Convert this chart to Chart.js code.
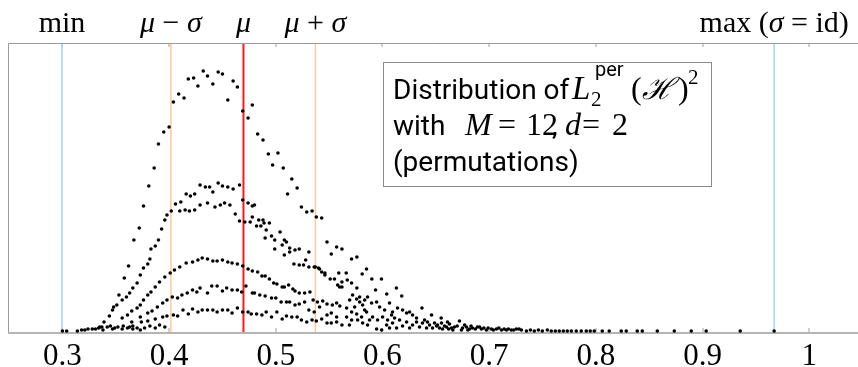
<!DOCTYPE html>
<html><head><meta charset="utf-8">
<script src="https://cdn.jsdelivr.net/npm/chart.js@4"></script>
<style>html,body{margin:0;padding:0;background:#fff;overflow:hidden}#wrap{width:858px;height:367px}</style>
</head><body><div id="wrap"><canvas id="c" width="858" height="367"></canvas></div>
<script>
// ---- data ----
const xTicks = [0.3, 0.4, 0.5, 0.6, 0.7, 0.8, 0.9, 1.0];
const markerNames = ['min', 'mu-sigma', 'mu', 'mu+sigma', 'max'];
const markerValues = [0.2996, 0.4017, 0.4697, 0.5371, 0.9671];

const bandA = [[0.335,5],[0.339,10],[0.344,16],[0.348,25],[0.353,37],[0.358,54],[0.362,66],[0.367,92],[0.372,104],[0.376,126],[0.381,146],[0.386,164],[0.390,188],[0.395,200],[0.400,205],[0.404,230],[0.409,238],[0.414,234],[0.418,253],[0.423,254],[0.427,246],[0.432,261],[0.436,256],[0.441,248],[0.446,260],[0.450,258],[0.455,232],[0.460,251],[0.464,245],[0.469,221],[0.474,214],[0.478,227],[0.483,198],[0.488,192],[0.493,178],[0.497,167],[0.502,179],[0.507,164],[0.511,138],[0.515,153],[0.520,144],[0.524,125],[0.529,120],[0.534,121],[0.538,115],[0.543,114],[0.548,90],[0.552,78],[0.557,85],[0.562,83],[0.571,73],[0.576,75],[0.581,58],[0.585,63],[0.590,53],[0.599,53],[0.604,38],[0.613,44],[0.618,36],[0.637,24],[0.646,17],[0.655,14]];

const bandB = [[0.347,22],[0.351,27],[0.356,32],[0.360,35],[0.363,39],[0.366,44],[0.370,49],[0.373,57],[0.376,64],[0.380,68],[0.382,73],[0.383,83],[0.387,86],[0.390,92],[0.393,103],[0.396,112],[0.398,117],[0.402,121],[0.406,128],[0.411,130],[0.416,138],[0.420,136],[0.424,138],[0.429,147],[0.434,145],[0.438,145],[0.441,140],[0.446,149],[0.450,146],[0.455,145],[0.460,143],[0.466,147],[0.469,132],[0.474,129],[0.478,126],[0.480,127],[0.484,112],[0.488,112],[0.494,109],[0.496,96],[0.504,100],[0.508,92],[0.510,90],[0.513,84],[0.518,82],[0.522,83],[0.531,80],[0.528,72],[0.537,65],[0.541,63],[0.546,59],[0.551,53],[0.555,53],[0.559,59],[0.566,59],[0.562,50],[0.567,52],[0.571,49],[0.576,44],
[0.410,121],[0.415,122],[0.419,121],[0.424,122],[0.429,127],[0.436,129],[0.443,125],[0.448,127],[0.452,129],[0.457,127],[0.462,118],[0.466,111],[0.471,110],[0.476,110],[0.478,115],[0.482,106],[0.486,106],[0.489,109],[0.491,102],[0.490,94],[0.499,92],[0.499,83],[0.506,87],[0.508,77],[0.513,80],[0.517,68],[0.522,67],[0.526,67],[0.531,65],[0.536,65],[0.540,64],[0.543,60],[0.546,57],[0.558,47],[0.562,45]];

const bandC = [[0.356,14],[0.361,17],[0.365,21],[0.370,24],[0.373,27],[0.376,32],[0.380,37],[0.383,40],[0.387,45],[0.391,50],[0.396,55],[0.401,59],[0.405,62],[0.410,65],[0.416,69],[0.422,70],[0.427,72],[0.431,74],[0.436,73],[0.441,71],[0.445,71],[0.450,72],[0.455,70],[0.459,69],[0.464,68],[0.469,66],[0.474,63],[0.478,61],[0.483,60],[0.487,56],[0.490,56],[0.494,53],[0.498,49],[0.501,48],[0.506,45],[0.508,45],[0.512,47],[0.516,43],[0.518,41],[0.522,39],[0.527,39],[0.532,40],[0.535,32],[0.539,30],[0.544,31],[0.548,28],[0.553,27],[0.557,29],[0.560,26]];

const bandD = [[0.365,10],[0.373,15],[0.380,19],[0.384,21],[0.389,25],[0.394,29],[0.398,32],[0.403,35],[0.408,34],[0.412,37],[0.417,39],[0.422,42],[0.426,40],[0.429,44],[0.436,39],[0.440,46],[0.445,46],[0.450,41],[0.454,44],[0.459,42],[0.464,42],[0.468,40],[0.472,46],[0.478,39],[0.480,39],[0.485,37],[0.490,36],[0.496,34],[0.500,34],[0.505,30],[0.510,30],[0.513,30],[0.518,27],[0.522,28],[0.527,30],[0.531,22],[0.536,20],[0.541,25],[0.548,17],[0.552,19],[0.557,15]];

const bandE = [[0.361,4],[0.366,6],[0.374,10],[0.380,11],[0.387,13],[0.394,15],[0.398,16],[0.404,17],[0.408,16],[0.413,22],[0.418,18],[0.422,23],[0.427,20],[0.431,22],[0.436,22],[0.441,22],[0.445,20],[0.450,22],[0.455,22],[0.459,19],[0.464,24],[0.469,20],[0.474,20],[0.477,18],[0.482,18],[0.487,17],[0.491,20],[0.496,15],[0.501,20],[0.506,13],[0.510,16],[0.515,15],[0.520,15],[0.524,12],[0.529,10],[0.534,12],[0.538,11],[0.543,13],[0.548,9],[0.552,9],[0.557,10],[0.562,7],[0.569,7]];

const baseLeft = [[0.300,1],[0.304,1],[0.314,1],[0.318,2],[0.321,2],[0.324,3],[0.328,3],[0.331,3],[0.334,4],[0.337,5],[0.338,2],[0.342,5],[0.345,6],[0.347,3],[0.349,4],[0.352,5],[0.356,3],[0.357,6],[0.363,5],[0.366,3],[0.370,4],[0.373,2],[0.377,4],[0.382,6],[0.387,4],[0.391,7],[0.396,5]];

const tail = [[0.5786,35],[0.5833,32],[0.5860,35],[0.5898,29],[0.5935,42],[0.5945,30],[0.5973,25],[0.6020,22],[0.6066,29],[0.6094,20],[0.6141,24],[0.6188,22],[0.6226,19],[0.6254,20],[0.6282,17],[0.6319,14],[0.6394,12],[0.6422,10],[0.6488,9],[0.6516,7],[0.6553,9],[0.6581,6],[0.6609,10],
[0.5945,3],[0.5992,2],[0.6039,7],[0.6066,4],[0.6094,9],[0.6132,4],[0.6160,12],[0.6188,6],[0.6226,10],[0.6254,4],[0.6282,7],[0.6319,10],[0.6347,5],[0.6375,9],[0.6413,4],[0.6441,7],[0.6469,4],[0.6507,6],[0.6534,4],[0.6563,3],[0.6600,5],
[0.5767,12],[0.5804,15],[0.5814,9],[0.5851,20],[0.5860,7],[0.5879,12],[0.5907,15],[0.5954,12],[0.6001,15],[0.6048,12],[0.6085,17],[0.6113,14],
[0.5598,45],[0.5720,37],[0.5758,33],[0.5786,30],[0.5692,32],[0.5739,25],[0.5814,27],[0.5833,22],[0.5664,24],[0.5711,20],[0.5758,18],[0.5664,15],[0.5711,12],
[0.6628,8],[0.6647,4],[0.6674,5],[0.6721,11],[0.6750,4],[0.6787,5],[0.6815,3],[0.6843,4],[0.6890,5],[0.6927,3],[0.6974,2],[0.7021,3],[0.7068,3],[0.7115,2],[0.7162,2],[0.7208,2],[0.7255,3],[0.7302,2],[0.7349,1],[0.7386,2],[0.7423,1],[0.7461,2],[0.7498,1],[0.7545,2],[0.7582,1],[0.7620,1],[0.7657,1],[0.7695,1],[0.7732,1],[0.7770,1],[0.7816,1],[0.7863,1],[0.7910,1],[0.7947,1],[0.7985,1],[0.8060,1],[0.8125,1],[0.8238,1],[0.8285,1],[0.8388,1],[0.8435,1],[0.8576,1],[0.8735,1],[0.8894,1],[0.9034,1],[0.9353,1],[0.9671,1],
[0.6620,3],[0.6660,2],[0.6700,6],[0.6740,2],[0.6770,7],[0.6800,2],[0.6830,6],[0.6870,3],[0.6910,5],[0.6950,4],[0.6990,4],[0.7040,2],[0.7090,4],[0.7140,3],[0.7180,3],[0.7230,2],[0.7280,3]];

const seriesList = [bandA, bandB, bandC, bandD, bandE, baseLeft, tail];

// ---- styles ----
const markerColors = ['#9fd6f2', '#ffc898', '#ff1a1a', '#ffc898', '#9fd6f2'];
const markerWidths = [1.5, 1.5, 2, 1.5, 1.5];
const SERIF = '"Liberation Serif", "DejaVu Serif", serif';
const SANS = 'Roboto, "Noto Sans", sans-serif';
const R = s => 'normal ' + s + 'px ' + SERIF;
const I = s => 'italic ' + s + 'px ' + SERIF;
const topLabels = [
  [{t:'min', f:R(30)}],
  [{t:'\u03bc', f:I(30)}, {t:' \u2212 ', f:R(30)}, {t:'\u03c3', f:I(30)}],
  [{t:'\u03bc', f:I(30)}],
  [{t:'\u03bc', f:I(30)}, {t:' + ', f:R(30)}, {t:'\u03c3', f:I(30)}],
  [{t:'max (', f:R(30)}, {t:'\u03c3', f:I(30)}, {t:' = id)', f:R(30)}]
];

function drawRich(ctx, segs, cx, y) {
  let w = 0;
  segs.forEach(s => { ctx.font = s.f; w += ctx.measureText(s.t).width; });
  let x = cx - w / 2;
  segs.forEach(s => { ctx.font = s.f; ctx.fillText(s.t, x, y); x += ctx.measureText(s.t).width; });
}

const deco = {
  id: 'deco',
  beforeDatasetsDraw(chart) {
    const {ctx, chartArea: a, scales: {x}} = chart;
    ctx.save();
    ctx.strokeStyle = '#cfcfcf'; ctx.lineWidth = 2;
    xTicks.forEach(v => {
      const px = Math.round(x.getPixelForValue(v));
      ctx.beginPath();
      ctx.moveTo(px, a.top); ctx.lineTo(px, a.top + 4);
      ctx.moveTo(px, a.bottom); ctx.lineTo(px, a.bottom - 4);
      ctx.stroke();
    });
    markerValues.forEach((v, i) => {
      const px = x.getPixelForValue(v);
      ctx.strokeStyle = markerColors[i]; ctx.lineWidth = markerWidths[i];
      ctx.beginPath(); ctx.moveTo(px, a.top); ctx.lineTo(px, a.bottom); ctx.stroke();
    });
    ctx.strokeStyle = '#9a9a9a'; ctx.lineWidth = 1;
    ctx.beginPath();
    ctx.moveTo(a.left + 0.5, a.bottom); ctx.lineTo(a.left + 0.5, a.top + 0.5); ctx.lineTo(a.right + 2, a.top + 0.5);
    ctx.stroke();
    ctx.strokeStyle = '#b5b5b5'; ctx.lineWidth = 2;
    ctx.beginPath(); ctx.moveTo(a.left, a.bottom + 1); ctx.lineTo(a.right + 2, a.bottom + 1); ctx.stroke();
    ctx.restore();
  },
  afterDraw(chart) {
    const {ctx, scales: {x}} = chart;
    ctx.save();
    ctx.fillStyle = '#000'; ctx.textBaseline = 'alphabetic';
    markerValues.forEach((v, i) => drawRich(ctx, topLabels[i], x.getPixelForValue(v), 32));
    // annotation box
    ctx.fillStyle = '#fff'; ctx.fillRect(383, 62, 328, 124);
    ctx.strokeStyle = '#8c8c8c'; ctx.lineWidth = 1; ctx.strokeRect(383.5, 62.5, 328, 124);
    ctx.fillStyle = '#000';
    const T = 'normal 28px ' + SANS;
    ctx.font = T; ctx.fillText('Distribution of', 393, 99);
    ctx.font = I(33); ctx.fillText('L', 572, 99);
    ctx.font = R(21); ctx.fillText('2', 591, 106);
    ctx.font = 'normal 20px ' + SANS; ctx.fillText('per', 595, 76);
    ctx.font = R(32); ctx.fillText('(', 631, 99);
    ctx.font = 'italic 30px ' + SERIF; ctx.fillText('\u210b', 642, 99);
    ctx.font = R(32); ctx.fillText(')', 678, 99);
    ctx.font = R(21); ctx.fillText('2', 688, 84);
    ctx.font = T; ctx.fillText('with', 393, 135);
    ctx.font = I(32); ctx.fillText('M', 465, 135);
    ctx.font = R(32); ctx.fillText('=', 498, 135);
    ctx.font = R(32); ctx.fillText('12', 526, 135);
    ctx.font = T; ctx.fillText(',', 552, 135);
    ctx.font = I(32); ctx.fillText('d', 565, 135);
    ctx.font = R(32); ctx.fillText('=', 582, 135);
    ctx.font = R(32); ctx.fillText('2', 612, 135);
    ctx.font = T; ctx.fillText('(permutations)', 393, 171);
    ctx.restore();
  }
};

new Chart(document.getElementById('c'), {
  type: 'scatter',
  data: {
    datasets: seriesList.map(s => ({
      data: s.map(p => ({x: p[0], y: p[1]})),
      pointRadius: 1.8, pointHoverRadius: 1.8, pointBorderWidth: 0,
      pointBackgroundColor: '#000', backgroundColor: '#000', clip: false
    }))
  },
  options: {
    responsive: false, animation: false, devicePixelRatio: 1,
    layout: {padding: {left: 8, right: 1, top: 43, bottom: 0}},
    plugins: {legend: {display: false}, tooltip: {enabled: false}},
    scales: {
      x: {
        type: 'linear', min: 0.249, max: 1.044,
        afterBuildTicks: s => { s.ticks = xTicks.map(v => ({value: v})); },
        afterFit: s => { s.height = 35; },
        grid: {display: false}, border: {display: false},
        ticks: {
          color: '#000', padding: 1, maxRotation: 0, autoSkip: false,
          font: {family: SERIF, size: 31, lineHeight: 1},
          callback: v => (Math.abs(v - 1) < 1e-9 ? '1' : v.toFixed(1))
        }
      },
      y: {display: false, min: 0, max: 289}
    }
  },
  plugins: [deco]
});
</script></body></html>
